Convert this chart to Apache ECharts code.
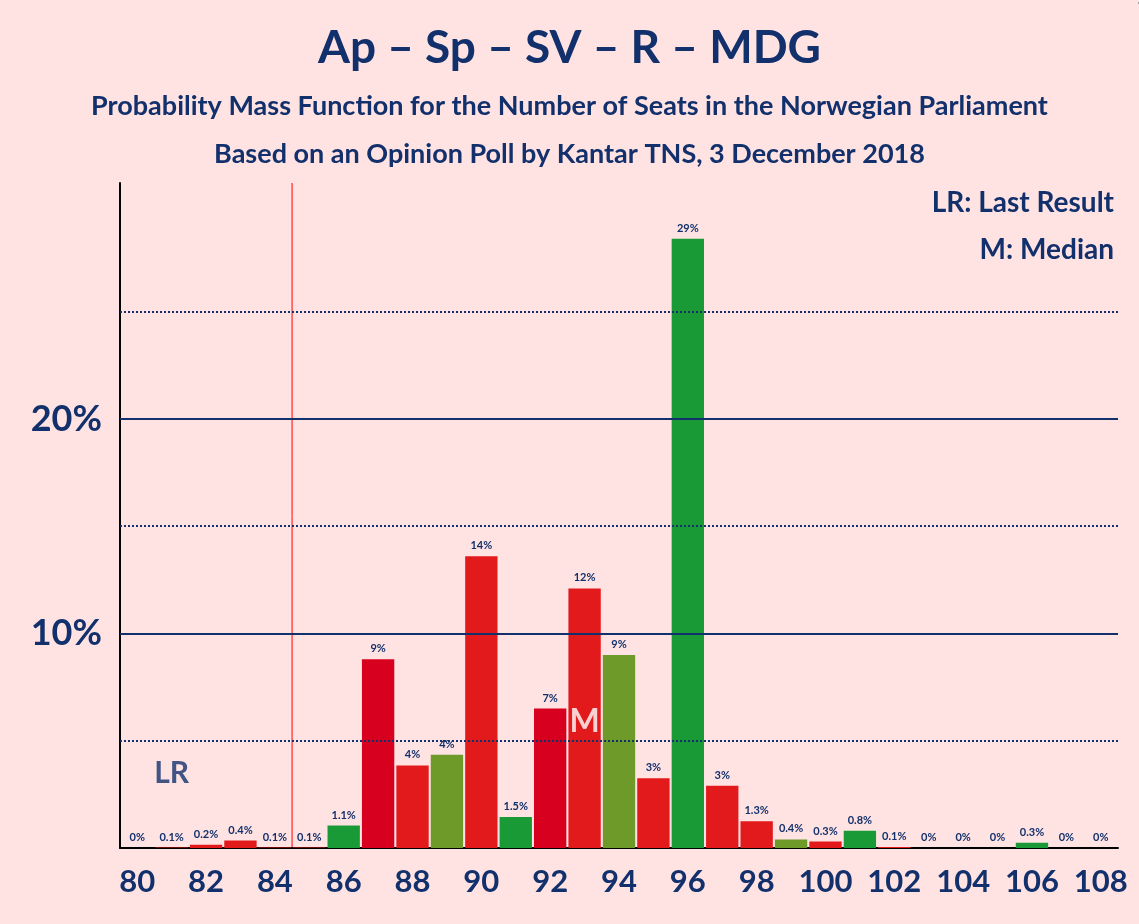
<!DOCTYPE html>
<html><head><meta charset="utf-8">
<script src="https://cdn.jsdelivr.net/npm/echarts@6/dist/echarts.min.js"></script>
<style>html,body{margin:0;background:#ffe3e3}#main{width:1139px;height:924px}</style>
</head><body><div id="main"></div>
<script>
var seats = [80,81,82,83,84,85,86,87,88,89,90,91,92,93,94,95,96,97,98,99,100,101,102,103,104,105,106,107,108];
var probs = [0,0.02,0.15,0.35,0.02,0.02,1.05,8.8,3.85,4.35,13.6,1.45,6.5,12.1,9.0,3.25,28.4,2.9,1.25,0.4,0.3,0.8,0.05,0,0,0,0.25,0,0];
var labels = ['0%','0.1%','0.2%','0.4%','0.1%','0.1%','1.1%','9%','4%','4%','14%','1.5%','7%','12%','9%','3%','29%','3%','1.3%','0.4%','0.3%','0.8%','0.1%','0%','0%','0%','0.3%','0%','0%'];
var colors = ['#e31a1c','#e31a1c','#e31a1c','#e31a1c','#e31a1c','#e31a1c','#1a9a36','#d8001f','#e31a1c','#6e9a2a','#e31a1c','#1a9a36','#d8001f','#e31a1c','#6e9a2a','#e31a1c','#1a9a36','#e31a1c','#e31a1c','#6e9a2a','#e31a1c','#1a9a36','#e31a1c','#e31a1c','#e31a1c','#e31a1c','#1a9a36','#e31a1c','#e31a1c'];
var navy = '#12306b';
var myChart = echarts.init(document.getElementById('main'));
myChart.setOption({
    backgroundColor: '#ffe3e3',
    animation: false,
    title: [
        {text: 'Ap – Sp – SV – R – MDG', left: 'center', top: 20, textStyle: {fontFamily: 'Lato', fontSize: 46, fontWeight: 'bold', color: navy}},
        {text: 'Probability Mass Function for the Number of Seats in the Norwegian Parliament', left: 'center', top: 88, textStyle: {fontFamily: 'Lato', fontSize: 27, fontWeight: 'bold', color: navy}},
        {text: 'Based on an Opinion Poll by Kantar TNS, 3 December 2018', left: 'center', top: 136, textStyle: {fontFamily: 'Lato', fontSize: 27, fontWeight: 'bold', color: navy}},
        {text: 'LR: Last Result', right: 20, top: 184, textStyle: {fontFamily: 'Lato', fontSize: 28, fontWeight: 'bold', color: navy}},
        {text: 'M: Median', right: 20, top: 231, textStyle: {fontFamily: 'Lato', fontSize: 28, fontWeight: 'bold', color: navy}}
    ],
    graphic: [{type: 'text', x: 1136, y: 4, rotation: -Math.PI / 2, style: {text: '© 2021 Filip van Laenen', fontSize: 10, fill: '#555', textAlign: 'right', textVerticalAlign: 'bottom'}}],
    grid: {left: 120, right: 21, top: 183, bottom: 76},
    xAxis: {
        type: 'category', data: seats,
        axisLine: {lineStyle: {color: '#000', width: 2}},
        axisTick: {show: false},
        axisLabel: {interval: 1, fontFamily: 'Lato', fontSize: 31, fontWeight: 'bold', color: navy, margin: 18}
    },
    yAxis: {
        type: 'value', min: 0, max: 31, interval: 5,
        axisLine: {show: true, lineStyle: {color: '#000', width: 2}},
        axisTick: {show: false},
        axisLabel: {fontFamily: 'Lato', fontSize: 36, fontWeight: 'bold', color: navy, margin: 18,
            formatter: function (v) { return (v === 10 || v === 20) ? v + '%' : ''; }},
        splitLine: {show: false}
    },
    series: [{
        type: 'bar', barCategoryGap: '6%',
        data: probs.map(function (v, i) { return {value: v, itemStyle: {color: colors[i]}}; }),
        label: {show: true, position: 'top', fontFamily: 'Lato', fontSize: 11, fontWeight: 'bold', color: navy,
            formatter: function (p) { return labels[p.dataIndex]; }},
        markLine: {
            silent: true, symbol: 'none', label: {show: false},
            data: [
                {yAxis: 5, lineStyle: {color: navy, type: 'dotted', width: 2}},
                {yAxis: 15, lineStyle: {color: navy, type: 'dotted', width: 2}},
                {yAxis: 25, lineStyle: {color: navy, type: 'dotted', width: 2}},
                {yAxis: 10, lineStyle: {color: navy, type: 'solid', width: 2}},
                {yAxis: 20, lineStyle: {color: navy, type: 'solid', width: 2}}
            ]
        },
        z: 3
    }, {
        type: 'scatter', symbolSize: 0,
        data: [{value: ['81', 3.5]}],
        label: {show: true, formatter: 'LR', fontFamily: 'Lato', fontSize: 30, fontWeight: 'bold', color: navy, position: 'inside'}
    }, {
        type: 'scatter', symbolSize: 0, z: 5,
        data: [{value: ['93', 5.9]}],
        label: {show: true, formatter: 'M', fontFamily: 'Lato', fontSize: 32, fontWeight: 'bold', color: '#fff', position: 'inside'}
    }]
});
var w = myChart.convertToPixel({xAxisIndex: 0}, '85') - myChart.convertToPixel({xAxisIndex: 0}, '84');
var x = myChart.convertToPixel({xAxisIndex: 0}, '84') + w / 2;
myChart.setOption({graphic: [{}, {type: 'line', shape: {x1: x, y1: 183, x2: x, y2: 848}, style: {stroke: '#ff0000', lineWidth: 1}}]});
</script></body></html>
